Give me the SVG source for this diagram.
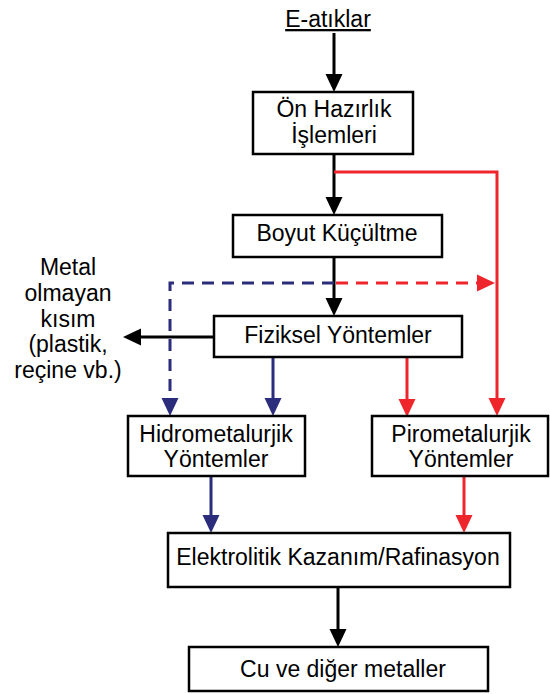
<svg xmlns="http://www.w3.org/2000/svg" width="550" height="694" viewBox="0 0 550 694">
<style>
.box{fill:#fff;stroke:#000;stroke-width:2.5}
.t{font-family:"Liberation Sans",Arial,sans-serif;font-size:23px;fill:#000;text-anchor:middle}
.k{fill:none;stroke:#000;stroke-width:3}
.b{fill:none;stroke:#2B2D7C;stroke-width:3}
.r{fill:none;stroke:#EE262C;stroke-width:3}
.d{stroke-dasharray:12 8}
</style>
<defs>
<marker id="ak" markerUnits="userSpaceOnUse" markerWidth="18" markerHeight="17" refX="8" refY="8.5" orient="auto" overflow="visible"><path d="M0,0 L18,8.5 L0,17 z" fill="#000"/></marker>
<marker id="ab" markerUnits="userSpaceOnUse" markerWidth="18" markerHeight="17" refX="8" refY="8.5" orient="auto" overflow="visible"><path d="M0,0 L18,8.5 L0,17 z" fill="#2B2D7C"/></marker>
<marker id="ar" markerUnits="userSpaceOnUse" markerWidth="18" markerHeight="17" refX="8" refY="8.5" orient="auto" overflow="visible"><path d="M0,0 L18,8.5 L0,17 z" fill="#EE262C"/></marker>
</defs>
<g id="connectors">
<path class="k" d="M334,33 V82" marker-end="url(#ak)"/>
<path class="k" d="M334,154 V205" marker-end="url(#ak)"/>
<path class="r" d="M334,172 H497 V406" marker-end="url(#ar)"/>
<path class="k" d="M334,257 V306" marker-end="url(#ak)"/>
<path class="b d" d="M334,283 H170 V406" marker-end="url(#ab)"/>
<path class="r d" d="M336,283 H485" marker-end="url(#ar)"/>
<path class="k" d="M214,337 H133" marker-end="url(#ak)"/>
<path class="b" d="M273,357 V406" marker-end="url(#ab)"/>
<path class="r" d="M407,357 V407" marker-end="url(#ar)"/>
<path class="b" d="M211,476 V523" marker-end="url(#ab)"/>
<path class="r" d="M464,476 V523" marker-end="url(#ar)"/>
<path class="k" d="M338,587 V637" marker-end="url(#ak)"/>
</g>
<g id="e-atiklar"><text class="t" x="328" y="27" text-decoration="underline">E-atıklar</text></g>
<g id="on-hazirlik"><rect class="box" x="253" y="92" width="160" height="62"/><text class="t" x="334" y="117">Ön Hazırlık</text><text class="t" x="334" y="143">İşlemleri</text></g>
<g id="boyut"><rect class="box" x="233" y="215" width="209" height="42"/><text class="t" x="337" y="241">Boyut Küçültme</text></g>
<g id="fiziksel"><rect class="box" x="214" y="316" width="248" height="41"/><text class="t" x="338" y="343">Fiziksel Yöntemler</text></g>
<g id="metal-olmayan"><text class="t" x="68" y="275">Metal</text><text class="t" x="68" y="301">olmayan</text><text class="t" x="68" y="327">kısım</text><text class="t" x="68" y="352">(plastik,</text><text class="t" x="68" y="378">reçine vb.)</text></g>
<g id="hidro"><rect class="box" x="128" y="416" width="177" height="60"/><text class="t" x="216" y="442">Hidrometalurjik</text><text class="t" x="216" y="467">Yöntemler</text></g>
<g id="piro"><rect class="box" x="372" y="416" width="176" height="60"/><text class="t" x="461" y="442">Pirometalurjik</text><text class="t" x="461" y="467">Yöntemler</text></g>
<g id="elektrolitik"><rect class="box" x="168" y="533" width="342" height="54"/><text class="t" x="338" y="565">Elektrolitik Kazanım/Rafinasyon</text></g>
<g id="cu"><rect class="box" x="189" y="647" width="299" height="44"/><text class="t" x="343" y="677">Cu ve diğer metaller</text></g>
</svg>
